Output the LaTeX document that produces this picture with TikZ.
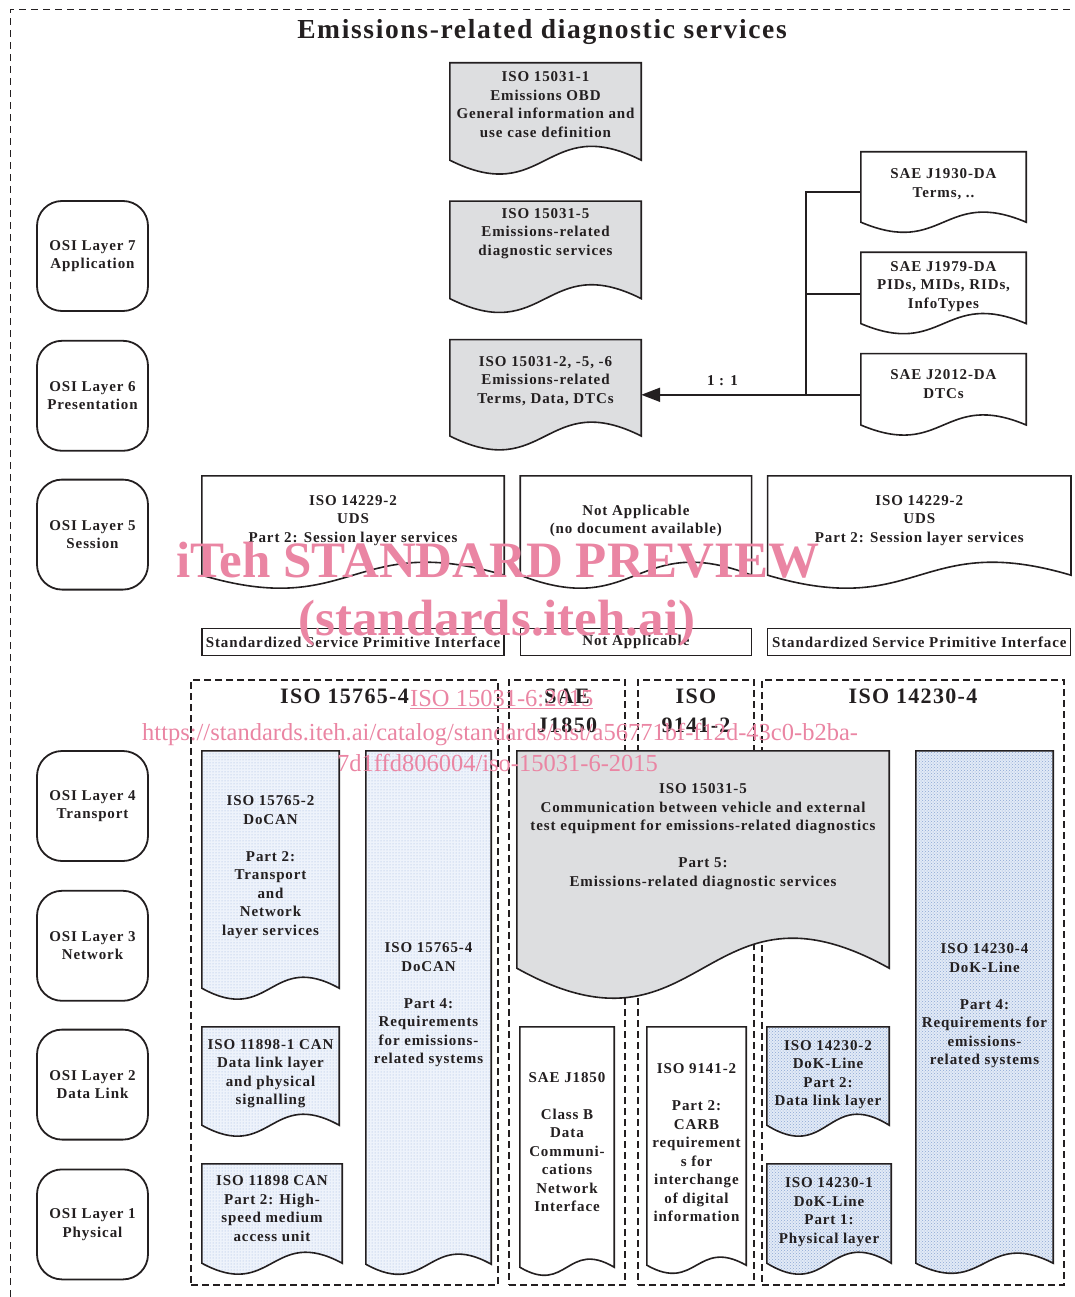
\documentclass[tikz,border=0pt]{standalone}
\usepackage{fontspec}
\setmainfont{Liberation Serif}[LetterSpace=6]
\newfontfamily\wmfont{Liberation Serif}
\usetikzlibrary{positioning}
\usetikzlibrary{calc}
\usetikzlibrary{backgrounds}
\usetikzlibrary{patterns}
\usetikzlibrary{arrows.meta}

\definecolor{inkdark}{RGB}{35,31,32}
\definecolor{docgray}{RGB}{221,222,224}
\definecolor{dotback}{RGB}{238,243,251}
\definecolor{dotblue}{RGB}{155,180,222}
\definecolor{hatchback}{RGB}{226,234,246}
\definecolor{hatchblue}{RGB}{140,168,212}
\definecolor{wmpink}{RGB}{234,133,163}

% document outline with a wavy lower edge round a named node
\newcommand\docshape[3][]{%
  \path[docline,#1] (#2.south west) -- (#2.north west) -- (#2.north east) -- (#2.south east)
    .. controls ($(#2.south)+(0,-#3)$) and ($(#2.south)+(0,#3)$) .. (#2.south west) -- cycle;}
% empty last line that lifts the text of a node
\newcommand\vpad[1]{\\[#1]\mbox{}}

\begin{document}
\begin{tikzpicture}[x=1pt, y=-1pt, font=\bfseries\fontsize{15}{18.5}\selectfont, text=inkdark, align=center,
	layerbox/.style={rectangle,rounded corners=25pt,draw=inkdark,line width=1.8pt,minimum width=111pt,minimum height=110pt,inner sep=0pt},
	docbox/.style={rectangle,inner sep=0pt},
	docline/.style={draw=inkdark,line width=1.6pt},
	grayfill/.style={fill=docgray},
	whitefill/.style={fill=white},
	dotfill/.style={preaction={fill=dotback},pattern=dots,pattern color=dotblue},
	hatchfill/.style={preaction={fill=hatchback},pattern=crosshatch dots,pattern color=hatchblue},
	ifbox/.style={rectangle,draw=inkdark,line width=1.2pt,minimum height=27pt,inner sep=0pt},
	grpframe/.style={rectangle,draw=inkdark,line width=1.1pt,dash pattern=on 7pt off 4pt,minimum height=605pt,inner sep=0pt},
	grptitle/.style={inner sep=0pt,font=\bfseries\fontsize{22}{29}\selectfont},
	wire/.style={draw=inkdark,line width=2pt},
	wmark/.style={text=wmpink,inner sep=0pt,anchor=base west}]
	\useasboundingbox (0,0) rectangle (1075,1297);
	\draw[inkdark, line width=1pt, dash pattern=on 7pt off 5pt] (10,1297) -- (10,10) -- (1075,10);
	\node[anchor=base, font=\bfseries\fontsize{27.5}{30}\selectfont] (title) at (542,39) {Emissions-related diagnostic services};

	% OSI layers
	\node[layerbox] (osi7) at (92.5,256) {OSI Layer 7\\Application};
	\node[layerbox] (osi6) [below = 28pt of osi7] {OSI Layer 6\\Presentation};
	\node[layerbox] (osi5) [below = 27pt of osi6] {OSI Layer 5\\Session};
	\node[layerbox] (osi4) at (92.5,806) {OSI Layer 4\\Transport};
	\node[layerbox] (osi3) [below = 28pt of osi4] {OSI Layer 3\\Network};
	\node[layerbox] (osi2) [below = 27pt of osi3] {OSI Layer 2\\Data Link};
	\node[layerbox] (osi1) [below = 28pt of osi2] {OSI Layer 1\\Physical};

	% application and presentation
	\node[docbox, minimum width=191pt, minimum height=97pt] (iso1) at (545.5,111.5) {ISO 15031-1\\Emissions OBD\\General information and\\use case definition\vpad{-4.5pt}};
	\node[docbox, minimum width=191pt, minimum height=97pt] (iso5) [below = 41pt of iso1] {ISO 15031-5\\Emissions-related\\diagnostic services\vpad{17.5pt}};
	\node[docbox, minimum width=191pt, minimum height=96pt] (iso2) [below = 41pt of iso5] {ISO 15031-2, -5, -6\\Emissions-related\\Terms, Data, DTCs\vpad{-2.5pt}};
	\node[docbox, minimum width=165pt, minimum height=70pt] (j1930) at (943.5,187) {SAE J1930-DA\\Terms, ..\vpad{-10.5pt}};
	\node[docbox, minimum width=165pt, minimum height=71pt] (j1979) [below = 30pt of j1930] {SAE J1979-DA\\PIDs, MIDs, RIDs,\\InfoTypes\vpad{-12.5pt}};
	\node[docbox, minimum width=165pt, minimum height=71pt] (j2012) [below = 30pt of j1979] {SAE J2012-DA\\DTCs\vpad{-7.5pt}};

	\coordinate (tail) at ($(j2012.west)+(0,5.5)$);
	\coordinate (tip) at ($(iso2.east)+(0,7)$);
	\draw[wire] ($(j1930.west)+(0,5.5)$) -- ++(-55,0) |- (tail);
	\draw[wire] ($(j1979.west)+(0,6)$) -- ++(-55,0);
	\draw[wire,-{Triangle[length=19pt,width=14pt]}] (tail) -- (tip) node[pos=0.63, above=5pt] {1 : 1};

	% session
	\node[docbox, minimum width=302pt, minimum height=99pt] (sesl) at (353,525.5) {ISO 14229-2\\UDS\\Part 2: Session layer services\vpad{-5.5pt}};
	\node[docbox, minimum width=231pt, minimum height=99pt] (sesm) [right = 16pt of sesl] {Not Applicable\\(no document available)\vpad{-6.5pt}};
	\node[docbox, minimum width=303pt, minimum height=99pt] (sesr) [right = 16pt of sesm] {ISO 14229-2\\UDS\\Part 2: Session layer services\vpad{-5.5pt}};
	\node[ifbox, minimum width=302pt] (ifl) [below = 53pt of sesl] {Standardized Service Primitive Interface};
	\node[ifbox, minimum width=231pt] (ifm) [below = 53pt of sesm] {Not Applicable};
	\node[ifbox, minimum width=303pt] (ifr) [below = 53pt of sesr] {Standardized Service Primitive Interface};

	% lower layers
	\node[docbox, minimum width=137pt, minimum height=237pt] (c15765b) at (270.5,869.5) {ISO 15765-2\\DoCAN\\[18.5pt]Part 2:\\Transport\\and\\Network\\layer services\vpad{-10.5pt}};
	\node[docbox, minimum width=125pt, minimum height=513pt] (c15765d) at (428.5,1007.5) {ISO 15765-4\\DoCAN\\[18.5pt]Part 4:\\Requirements\\for emissions-\\related systems\vpad{-10.5pt}};
	\node[docbox, minimum width=137pt, minimum height=98pt] (c11898a) at (270.5,1076) {ISO 11898-1 CAN\\Data link layer\\and physical\\signalling\vpad{-10.5pt}};
	\node[docbox, minimum width=140pt, minimum height=99pt] (c11898b) at (272,1213.5) {ISO 11898 CAN\\Part 2: High-\\speed medium\\access unit\vpad{-8.5pt}};
	\node[docbox, minimum width=372pt, minimum height=217pt] (c15031) at (703,859.5) {ISO 15031-5\\Communication between vehicle and external\\test equipment for emissions-related diagnostics\\[18.5pt]Part 5:\\Emissions-related diagnostic services\vpad{30.5pt}};
	\node[docbox, minimum width=94pt, minimum height=240pt] (cj1850) at (567,1147) {SAE J1850\\[18.5pt]Class B\\Data\\Communi-\\cations\\Network\\Interface\vpad{-8.5pt}};
	\node[docbox, minimum width=99pt, minimum height=238pt] (c9141) at (696.5,1146) {ISO 9141-2\\[18.5pt]Part 2:\\CARB\\requirement\\s for\\interchange\\of digital\\information\vpad{-12.5pt}};
	\node[docbox, minimum width=122pt, minimum height=98pt] (c14230b) at (828,1076) {ISO 14230-2\\DoK-Line\\Part 2:\\Data link layer\vpad{-12.5pt}};
	\node[docbox, minimum width=124pt, minimum height=99pt] (c14230a) at (829,1213.5) {ISO 14230-1\\DoK-Line\\Part 1:\\Physical layer\vpad{-12.5pt}};
	\node[docbox, minimum width=137pt, minimum height=512pt] (c14230d) at (984.5,1007) {ISO 14230-4\\DoK-Line\\[18.5pt]Part 4:\\Requirements for\\emissions-\\related systems\vpad{-12.5pt}};

	\begin{scope}[on background layer]
		\node[grpframe, minimum width=307pt] (g15765) at (344.5,982.5) {};
		\node[grpframe, minimum width=116pt] (gj1850) at (567,982.5) {};
		\node[grpframe, minimum width=116pt] (g9141) at (696,982.5) {};
		\node[grpframe, minimum width=302pt] (g14230) at (913,982.5) {};
		\docshape[grayfill]{iso1}{48}
		\docshape[grayfill]{iso5}{48}
		\docshape[grayfill]{iso2}{48}
		\docshape[whitefill]{j1930}{35}
		\docshape[whitefill]{j1979}{35}
		\docshape[whitefill]{j2012}{35}
		\docshape[whitefill]{sesl}{45}
		\docshape[whitefill]{sesm}{45}
		\docshape[whitefill]{sesr}{45}
		\docshape[dotfill]{c15765b}{38}
		\docshape[dotfill]{c15765d}{35}
		\docshape[dotfill]{c11898a}{38}
		\docshape[dotfill]{c11898b}{38}
		\docshape[grayfill]{c15031}{104}
		\docshape[whitefill]{cj1850}{28}
		\docshape[whitefill]{c9141}{28}
		\docshape[hatchfill]{c14230b}{38}
		\docshape[hatchfill]{c14230a}{38}
		\docshape[hatchfill]{c14230d}{35}
	\end{scope}

	\node[grptitle] (t15765) [below = 9pt of g15765.north] {ISO 15765-4};
	\node[grptitle] (tj1850) [below = 9pt of gj1850.north] {SAE\\J1850};
	\node[grptitle] (t9141) [below = 9pt of g9141.north] {ISO\\9141-2};
	\node[grptitle] (t14230) [below = 9pt of g14230.north] {ISO 14230-4};

	% watermark
	\node[wmark, anchor=base, font=\wmfont\bfseries\fontsize{51}{51}\selectfont] (wm1) at (498,577) {iTeh STANDARD PREVIEW};
	\node[wmark, anchor=base, font=\wmfont\bfseries\fontsize{51}{51}\selectfont] (wm2) at (497,635) {(standards.iteh.ai)};
	\node[wmark, font=\wmfont\fontsize{24.5}{24.5}\selectfont] (wm3) at (410,706) {\underline{ISO 15031-6:2015}};
	\node[wmark, font=\wmfont\fontsize{24.5}{24.5}\selectfont] (wm4) at (142,740) {https://standards.iteh.ai/catalog/standards/sist/a56771bf-f12d-43c0-b2ba-};
	\node[wmark, font=\wmfont\fontsize{24.5}{24.5}\selectfont] (wm5) at (337,771) {7d1ffd806004/iso-15031-6-2015};
\end{tikzpicture}
\end{document}
